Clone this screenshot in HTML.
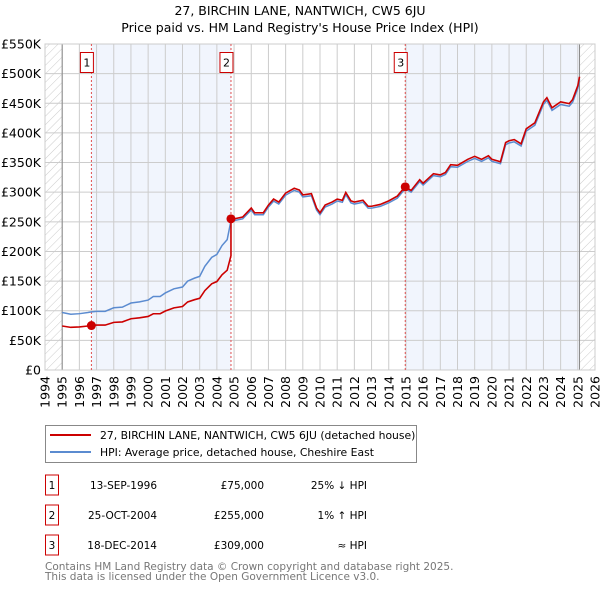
<!DOCTYPE html>
<html><head><meta charset="utf-8"><style>
body{margin:0;background:#fff;}
svg text{font-family:"DejaVu Sans","Liberation Sans",sans-serif;}
</style></head><body>
<svg id="c" width="600" height="590" xmlns="http://www.w3.org/2000/svg">
<defs><pattern id="hatch" width="6" height="6" patternUnits="userSpaceOnUse" patternTransform="rotate(45)"><line x1="0" y1="0" x2="0" y2="6" stroke="#ccc" stroke-width="1"/></pattern></defs>
<text x="300" y="15" text-anchor="middle" font-size="12.5">27, BIRCHIN LANE, NANTWICH, CW5 6JU</text>
<text x="300" y="32" text-anchor="middle" font-size="12.5">Price paid vs. HM Land Registry's House Price Index (HPI)</text>
<g id="plot"></g>
<rect x="45.5" y="425.5" width="371" height="37" fill="#fff" stroke="#888"/>
<line x1="50" y1="435" x2="91" y2="435" stroke="#cc0000" stroke-width="2"/>
<text x="100" y="439" font-size="10.8">27, BIRCHIN LANE, NANTWICH, CW5 6JU (detached house)</text>
<line x1="50" y1="452" x2="91" y2="452" stroke="#5b8bd0" stroke-width="2"/>
<text x="100" y="456" font-size="10.8">HPI: Average price, detached house, Cheshire East</text>
<g id="tbl" font-size="10.5"></g>
<text x="45" y="570" font-size="10.5" fill="#777">Contains HM Land Registry data © Crown copyright and database right 2025.</text>
<text x="45" y="580" font-size="10.5" fill="#777">This data is licensed under the Open Government Licence v3.0.</text>
</svg>
<script>
const hpiYears=[1995,1995.5,1996,1996.5,1996.7,1997,1997.5,1998,1998.5,1999,1999.5,2000,2000.3,2000.7,2001,2001.5,2002,2002.3,2002.7,2003,2003.3,2003.7,2004,2004.3,2004.6,2004.82,2005,2005.5,2006,2006.2,2006.7,2007,2007.3,2007.6,2008,2008.5,2008.8,2009,2009.5,2009.8,2010,2010.3,2010.7,2011,2011.3,2011.5,2011.8,2012,2012.5,2012.8,2013,2013.5,2014,2014.5,2014.96,2015.3,2015.8,2016,2016.6,2017,2017.3,2017.6,2018,2018.6,2019,2019.4,2019.8,2020,2020.5,2020.8,2021,2021.3,2021.7,2022,2022.5,2023,2023.2,2023.5,2024,2024.5,2024.7,2025,2025.1];
const hpiValues=[97,94,95,97,98,99,99,105,106,113,115,118,124,124,130,137,140,150,155,158,175,190,195,210,220,252,252,255,270,262,262,275,285,280,295,303,300,292,294,270,262,275,280,285,283,296,282,280,283,273,273,276,282,290,306,300,318,312,328,326,330,343,342,352,357,352,358,352,348,380,383,385,378,403,413,448,455,438,448,445,452,475,490];
const saleDates=[1996.7,2004.82,2014.96];
const salePrices=[75000,255000,309000];
const saleLabels=["1","2","3"];
const saleDateText=["13-SEP-1996","25-OCT-2004","18-DEC-2014"];
const salePriceText=["£75,000","£255,000","£309,000"];
const saleHpiText=["25% ↓ HPI","1% ↑ HPI","≈ HPI"];
const yTicks=[0,50,100,150,200,250,300,350,400,450,500,550];
const xTicks=[1994,1995,1996,1997,1998,1999,2000,2001,2002,2003,2004,2005,2006,2007,2008,2009,2010,2011,2012,2013,2014,2015,2016,2017,2018,2019,2020,2021,2022,2023,2024,2025,2026];

const NS="http://www.w3.org/2000/svg";
const L=45,R=595,T=44,B=370;
const X=y=>L+(y-1994)/32*(R-L);
const Y=v=>B-v/550*(B-T);
function mk(tag,at,parent){const e=document.createElementNS(NS,tag);for(const k in at)e.setAttribute(k,at[k]);parent.appendChild(e);return e;}
const g=document.getElementById('plot');
[[saleDates[0],saleDates[1]],[saleDates[2],2025.1]].forEach((b,i)=>{
 const r=mk('rect',{x:X(b[0]),y:T,width:X(b[1])-X(b[0]),height:B-T,fill:'#eef3fc',opacity:0.8},g);
 
 
});
const h1=mk('rect',{x:L,y:T,width:X(1995)-L,height:B-T,fill:'url(#hatch)'},g);


const h2=mk('rect',{x:X(2025.1),y:T,width:R-X(2025.1),height:B-T,fill:'url(#hatch)'},g);


yTicks.forEach(t=>{
 const l=mk('line',{x1:L,x2:R,y1:Y(t),y2:Y(t),stroke:'#ccc'},g);
 
 
 const tx=mk('text',{x:L-4,y:Y(t)+4.5,'text-anchor':'end','font-size':'12.5'},g);
 tx.textContent=t===0?'£0':'£'+t+'K';
 
 
});
xTicks.forEach(t=>{
 const l=mk('line',{x1:X(t),x2:X(t),y1:T,y2:B,stroke:'#ccc'},g);
 
 
 const tx=mk('text',{x:0,y:0,'text-anchor':'end','font-size':'12.5',transform:`translate(${X(t)+4.5},${B+6}) rotate(-90)`},g);
 tx.textContent=t;
 
 
});
const ax1=mk('line',{x1:X(1995),x2:X(1995),y1:T,y2:B,stroke:'#888'},g);


const ax2=mk('line',{x1:X(2025.1),x2:X(2025.1),y1:T,y2:B,stroke:'#888'},g);


const fr=mk('rect',{x:L,y:T,width:R-L,height:B-T,fill:'none',stroke:'#ccc'},g);


saleDates.forEach((d,i)=>{
 const l=mk('line',{x1:X(d),x2:X(d),y1:T,y2:B,stroke:'#e05050','stroke-dasharray':'2,2','stroke-width':1},g);
 
 
});
function hpiAt(d){for(let i=0;i<hpiYears.length-1;i++){if(d>=hpiYears[i]&&d<=hpiYears[i+1]){const f=(d-hpiYears[i])/(hpiYears[i+1]-hpiYears[i]);return hpiValues[i]+f*(hpiValues[i+1]-hpiValues[i]);}}return hpiValues[hpiValues.length-1];}
const hp=mk('polyline',{points:hpiYears.map((y,i)=>X(y)+','+Y(hpiValues[i])).join(' '),fill:'none',stroke:'#5b8bd0','stroke-width':1.5},g);


const pts=[];
hpiYears.forEach((y,i)=>{
 let k=0;for(let j=0;j<saleDates.length;j++)if(y>=saleDates[j]-1e-9)k=j;
 const ratio=salePrices[k]/1000/hpiAt(saleDates[k]);
 if(i>0&&k>0&&hpiYears[i-1]<saleDates[k]&&y>=saleDates[k]){
  const pr=salePrices[k-1]/1000/hpiAt(saleDates[k-1]);
  pts.push(X(saleDates[k])+','+Y(hpiAt(saleDates[k])*pr));
  pts.push(X(saleDates[k])+','+Y(salePrices[k]/1000));
 }
 pts.push(X(y)+','+Y(hpiValues[i]*ratio));
});
const pl=mk('polyline',{points:pts.join(' '),fill:'none',stroke:'#cc0000','stroke-width':1.6},g);


saleDates.forEach((d,i)=>{
 const c=mk('circle',{cx:X(d),cy:Y(salePrices[i]/1000),r:4.5,fill:'#cc0000'},g);
 
 
 const r=mk('rect',{x:X(d)-11,y:52.5,width:13,height:20,fill:'#fff',stroke:'#cc0000'},g);
 
 
 const t=mk('text',{x:X(d)-4.5,y:66.5,'text-anchor':'middle','font-size':'11'},g);
 t.textContent=saleLabels[i];
 
 
});
const tb=document.getElementById('tbl');
saleDates.forEach((d,i)=>{
 const cy=485+30*i;
 const r=mk('rect',{x:45.5,y:cy-10,width:13,height:20,fill:'#fff',stroke:'#cc0000'},tb);
 
 
 const cells=[[52,'middle',saleLabels[i],'table-num'],[157,'end',saleDateText[i],'table-date'],[264,'end',salePriceText[i],'table-price'],[367,'end',saleHpiText[i],'table-hpi']];
 cells.forEach(c=>{const t=mk('text',{x:c[0],y:cy+4,'text-anchor':c[1]},tb);t.textContent=c[2];
  
  });
});
</script>
</body></html>
